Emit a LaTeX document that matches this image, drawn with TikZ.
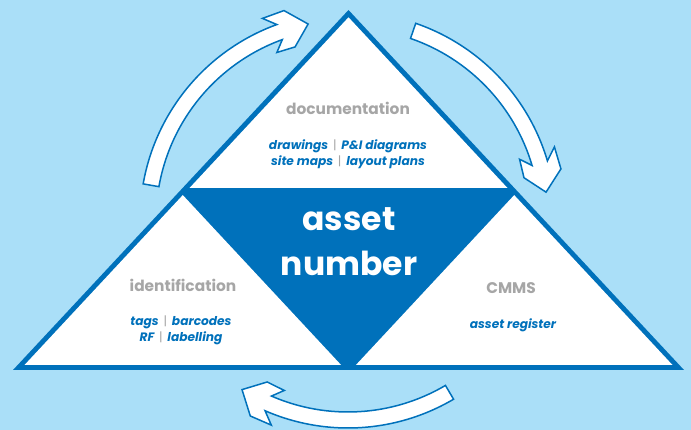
\documentclass[tikz,border=0pt]{standalone}
\usepackage{fontspec}
\setmainfont{Poppins}
\usetikzlibrary{positioning}

\definecolor{skyblue}{HTML}{AADFF8}
\definecolor{assetblue}{HTML}{0071BB}
\definecolor{labelgrey}{HTML}{A6A6A6}

\newcommand{\gsep}{\hspace{2pt}\textcolor{labelgrey}{\upshape\mdseries|}\hspace{2pt}}

\tikzset{
  title/.style={inner sep=0pt, text=labelgrey, font=\fontsize{15.4}{18}\selectfont\bfseries},
  items/.style={inner sep=0pt, align=center, text=assetblue, font=\fontsize{12.2}{16}\selectfont\itshape\bfseries},
  cyclearrow/.style={draw=assetblue, fill=white, line width=1.5pt, line join=miter},
}

\begin{document}
\begin{tikzpicture}[x=1pt, y=-1pt]
  \fill[skyblue] (0,0) rectangle (691,430);
  \useasboundingbox (0,0) rectangle (691,430);

  % the triangle
  \fill[assetblue] (348.5,10) -- (13,370) -- (684,370) -- cycle;
  \fill[white] (348.5,17.3) -- (189.5,188) -- (507.5,188) -- cycle;
  \fill[white] (182.8,195.1) -- (24.5,365) -- (341.1,365) -- cycle;
  \fill[white] (514.2,195.1) -- (672.5,365) -- (355.9,365) -- cycle;

  % arrows round it
  \begin{scope}[shift={(348,220)}]
    \foreach \t/\n in {-170/-110, -71/-16.5, 59.5/113.5}
      \draw[cyclearrow] (\t:208) arc[start angle=\t, end angle=\n, radius=208]
        -- (\n-3:219) -- (\n+3:219) -- (\n+8.5:200) -- (\n+3:181) -- (\n-3:182)
        -- (\n:192) arc[start angle=\n, end angle=\t, radius=192] -- cycle;
  \end{scope}

  \node (asset) [inner sep=0pt, align=center, text=white,
    font=\fontsize{33}{45}\selectfont\bfseries] at (349,242) {asset\\number};

  \node (doc) [title] at (348,108) {documentation};
  \node (docitems) [items] at (348,154) {drawings \gsep{} P\&I diagrams\\site maps \gsep{} layout plans};

  \node (ident) [title] at (183,285) {identification};
  \node (identitems) [items] at (181,330) {tags \gsep{} barcodes\\RF \gsep{} labelling};

  \node (cmms) [title] at (511,288) {CMMS};
  \node (cmmsitems) [items] at (513,325) {asset register};
\end{tikzpicture}
\end{document}
